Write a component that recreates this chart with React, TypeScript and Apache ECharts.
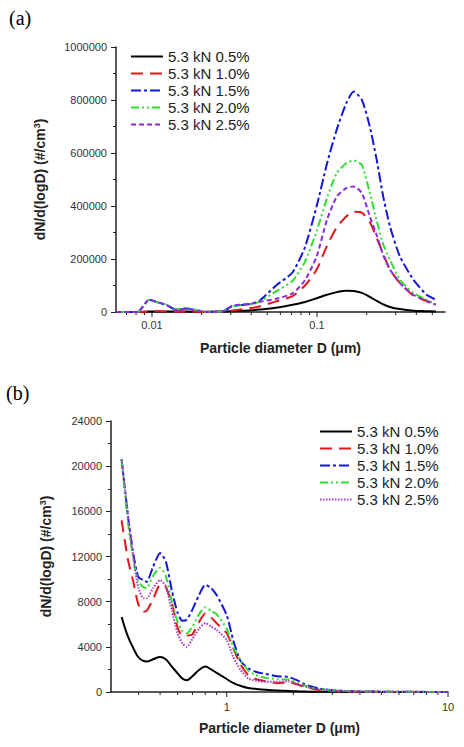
import React, { useEffect, useRef } from "react";
import * as echarts from "echarts";

const FONT = '"Liberation Sans", Arial, sans-serif';

const seriesNames = ["5.3 kN 0.5%", "5.3 kN 1.0%", "5.3 kN 1.5%", "5.3 kN 2.0%", "5.3 kN 2.5%"];

// ---- (a) SMPS range ----
const topDiameters = [0.0061, 0.0075, 0.0082, 0.0096, 0.011, 0.0122, 0.014, 0.0161, 0.0185, 0.0213, 0.0268, 0.0308, 0.0389, 0.0447, 0.0565, 0.0712, 0.0846, 0.0996, 0.115, 0.132, 0.151, 0.167, 0.187, 0.209, 0.23, 0.252, 0.277, 0.318, 0.384, 0.462, 0.526];
const topBlack = [0, 0, 0, 1500, 2000, 2000, 1500, 1500, 1000, 1000, 1500, 3000, 6000, 9000, 16000, 27000, 38000, 52000, 65000, 75000, 80000, 79000, 72000, 57000, 42000, 29000, 19000, 11000, 5000, 3000, 2000];
const topRed = [0, 0, 0, 2000, 3000, 2000, 1000, 1500, 1000, 0, 2000, 6000, 14000, 21000, 40000, 60000, 100000, 160000, 250000, 320000, 361000, 378000, 375000, 340000, 280000, 220000, 160000, 110000, 62000, 42000, 32000];
const topBlue = [0, 0, 0, 46000, 35000, 27000, 8000, 13000, 6000, 0, 2000, 22000, 30000, 42000, 100000, 150000, 245000, 400000, 560000, 690000, 790000, 832000, 801000, 700000, 575000, 436000, 323000, 210000, 122000, 65000, 46000];
const topGreen = [0, 0, 0, 45000, 35000, 28000, 10000, 16000, 8000, 0, 2000, 22000, 28000, 38000, 78000, 118000, 190000, 305000, 430000, 525000, 562000, 572000, 555000, 450000, 345000, 255000, 197000, 122000, 72000, 46000, 28000];
const topPurple = [0, 0, 0, 46000, 36000, 27000, 8000, 12000, 6000, 0, 2000, 24000, 30000, 38000, 50000, 70000, 120000, 210000, 348000, 436000, 468000, 474000, 449000, 361000, 290000, 215000, 160000, 109000, 65000, 40000, 28000];
const topMajorTicks = [0.01, 0.1];
const topMinorTicks = [0.007, 0.008, 0.009, 0.02, 0.03, 0.04, 0.05, 0.06, 0.07, 0.08, 0.09, 0.2, 0.3, 0.4, 0.5];

// ---- (b) OPC range ----
const botDiameters = [0.335, 0.358, 0.378, 0.398, 0.42, 0.435, 0.465, 0.5, 0.53, 0.565, 0.6, 0.63, 0.66, 0.7, 0.75, 0.8, 0.85, 0.9, 1.0, 1.07, 1.15, 1.25, 1.35, 1.5, 1.7, 1.9, 2.1, 2.3, 2.6, 3.0, 3.5, 4.5, 6, 8, 10];
const botBlack = [6650, 4900, 3900, 3100, 2750, 2700, 2900, 3100, 2900, 2250, 1650, 1200, 1050, 1400, 1950, 2250, 2000, 1700, 1150, 800, 550, 350, 280, 200, 130, 90, 60, 40, 25, 15, 10, 5, 3, 2, 0];
const botRed = [15200, 11700, 9800, 7800, 7100, 7200, 8200, 9500, 9300, 7900, 5700, 5000, 5000, 5100, 6200, 6950, 6600, 6100, 5200, 3900, 2500, 1500, 1150, 950, 780, 850, 650, 420, 170, 80, 40, 20, 10, 5, 0];
const botBlue = [20600, 15500, 12300, 10200, 9900, 9750, 11100, 12300, 11600, 9000, 7000, 6300, 6400, 7300, 8600, 9500, 9200, 8600, 6800, 4600, 2800, 2100, 1800, 1600, 1400, 1330, 1000, 600, 320, 160, 80, 40, 20, 10, 5];
const botGreen = [20600, 15000, 11800, 9800, 9300, 9200, 10300, 11000, 10300, 8000, 6200, 5400, 5200, 5800, 6900, 7500, 7200, 6900, 5600, 4000, 2900, 1900, 1500, 1250, 1150, 1100, 850, 500, 280, 150, 80, 40, 20, 10, 5];
const botPurple = [20600, 15800, 12000, 9300, 8300, 8300, 9200, 9900, 9400, 7200, 5200, 4300, 4000, 4700, 5600, 6100, 5800, 5500, 4600, 3100, 2000, 1200, 1000, 900, 900, 950, 700, 450, 250, 150, 80, 40, 20, 10, 5];
const botMajorTicks = [1, 10];
const botMinorTicks = [0.4, 0.5, 0.6, 0.7, 0.8, 0.9, 2, 3, 4, 5, 6, 7, 8, 9];

const AXIS_COLOR = "#222";
const LABEL_COLOR = "#333";

const fmtNum = (v: number) => String(Number(Number(v).toPrecision(6)));

function makeLine(name: string, xs: number[], ys: number[], color: string, type: any, width: number, smooth: number) {
  return {
    name,
    type: "line",
    symbol: "none",
    smooth,
    data: xs.map((x, i) => [x, ys[i]]),
    lineStyle: { color, width, type },
    itemStyle: { color },
  };
}

function tickSeries(major: number[], minor: number[]) {
  const data = [...major.map((v) => [v, 1]), ...minor.map((v) => [v, 0])];
  return {
    name: "__ticks",
    type: "custom",
    silent: true,
    clip: false,
    data,
    encode: { x: 0, y: 1 },
    renderItem: (params: any, api: any) => {
      const v = api.value(0);
      const p = api.coord([v, 0]);
      const len = api.value(1) ? 5 : 3;
      return {
        type: "line",
        shape: { x1: p[0], y1: p[1], x2: p[0], y2: p[1] + len },
        style: { stroke: AXIS_COLOR, lineWidth: 1 },
      };
    },
  };
}

function baseOption(cfg: any) {
  return {
    animation: false,
    textStyle: { fontFamily: FONT },
    graphic: [
      {
        type: "text",
        left: cfg.labelPos[0],
        top: cfg.labelPos[1],
        style: { text: cfg.panel, font: '20px "Liberation Serif", "Times New Roman", serif', fill: "#000" },
      },
    ],
    legend: {
      orient: "vertical",
      left: cfg.legendPos[0],
      top: cfg.legendPos[1],
      padding: 0,
      itemWidth: 32,
      itemHeight: 12,
      itemGap: 2,
      data: seriesNames,
      textStyle: { fontSize: 15, color: "#222", lineHeight: 15, fontFamily: FONT },
      lineStyle: { width: 2 },
      itemStyle: { opacity: 0 },
      selectedMode: false,
    },
    grid: cfg.grid,
    xAxis: {
      type: "log",
      logBase: 10,
      min: cfg.xMin,
      max: cfg.xMax,
      axisLine: { lineStyle: { color: AXIS_COLOR, width: 1.5 } },
      axisTick: { show: false },
      splitLine: { show: false },
      minorTick: { show: false },
      axisLabel: {
        fontSize: 11,
        color: LABEL_COLOR,
        margin: cfg.xLabelMargin,
        showMinLabel: false,
        showMaxLabel: cfg.showMaxLabel,
        formatter: (v: number) => fmtNum(v),
      },
      name: "Particle diameter D (μm)",
      nameLocation: "middle",
      nameGap: 29,
      nameTextStyle: { fontSize: 14, fontWeight: "bold", color: "#222", fontFamily: FONT },
    },
    yAxis: {
      type: "value",
      min: 0,
      max: cfg.yMax,
      interval: cfg.yInterval,
      axisLine: { show: true, lineStyle: { color: AXIS_COLOR, width: 1.5 } },
      axisTick: { show: true, length: 5, lineStyle: { color: AXIS_COLOR, width: 1 } },
      minorTick: { show: true, splitNumber: 2, length: 3, lineStyle: { color: AXIS_COLOR, width: 1 } },
      splitLine: { show: false },
      minorSplitLine: { show: false },
      axisLabel: { fontSize: 11, color: LABEL_COLOR, margin: 9, formatter: (v: number) => String(v) },
      name: "{a|dN/d(logD) (#/cm}{s|3}{a|)}",
      nameLocation: "middle",
      nameGap: cfg.yNameGap,
      nameRotate: 90,
      nameTextStyle: {
        rich: {
          a: { fontSize: 14, fontWeight: "bold", color: "#222", fontFamily: FONT, lineHeight: 16 },
          s: { fontSize: 9, fontWeight: "bold", color: "#222", fontFamily: FONT, verticalAlign: "top", lineHeight: 16 },
        },
      },
    },
    series: cfg.series,
  };
}

const optionA = baseOption({
  panel: "(a)",
  labelPos: [9, 8],
  legendPos: [130, 49],
  grid: { left: 116, right: 19, top: 47, bottom: 58 },
  xMin: 0.00605,
  xMax: 0.597,
  xLabelMargin: 7,
  showMaxLabel: false,
  yMax: 1000000,
  yInterval: 200000,
  yNameGap: 68,
  series: [
    makeLine(seriesNames[0], topDiameters, topBlack, "#000000", "solid", 2, 0.4),
    makeLine(seriesNames[1], topDiameters, topRed, "#e4161c", [12, 7], 2, 0.2),
    makeLine(seriesNames[2], topDiameters, topBlue, "#1616d8", [10, 3, 3, 3], 2, 0.2),
    makeLine(seriesNames[3], topDiameters, topGreen, "#2ee02e", [8, 3, 2, 3, 2, 3], 2, 0.2),
    makeLine(seriesNames[4], topDiameters, topPurple, "#8a2be2", [5, 3], 2, 0.2),
    tickSeries(topMajorTicks, topMinorTicks),
  ],
});

const optionB = baseOption({
  panel: "(b)",
  labelPos: [6, 13],
  legendPos: [319, 54],
  grid: { left: 111, right: 16, top: 51, bottom: 55 },
  xMin: 0.3,
  xMax: 10,
  xLabelMargin: 9,
  showMaxLabel: true,
  yMax: 24000,
  yInterval: 4000,
  yNameGap: 57,
  series: [
    makeLine(seriesNames[0], botDiameters, botBlack, "#000000", "solid", 2, 0.4),
    makeLine(seriesNames[1], botDiameters, botRed, "#e4161c", [12, 7], 2, 0.2),
    makeLine(seriesNames[2], botDiameters, botBlue, "#1616d8", [10, 3, 3, 3], 2, 0.2),
    makeLine(seriesNames[3], botDiameters, botGreen, "#2ee02e", [8, 3, 2, 3, 2, 3], 2, 0.2),
    makeLine(seriesNames[4], botDiameters, botPurple, "#a437c8", [1.5, 1.5], 2, 0.2),
    tickSeries(botMajorTicks, botMinorTicks),
  ],
});

function ChartBox({ option, height }: { option: any; height: number }) {
  const ref = useRef<HTMLDivElement>(null);
  useEffect(() => {
    if (!ref.current) return;
    const chart = echarts.init(ref.current, undefined, { renderer: "svg" });
    chart.setOption(option);
    return () => chart.dispose();
  }, [option]);
  return <div ref={ref} style={{ width: 464, height }} />;
}

export default function App() {
  return (
    <div style={{ position: "absolute", left: 0, top: 0, width: 464, height: 747, background: "#fff" }}>
      <ChartBox option={optionA} height={370} />
      <ChartBox option={optionB} height={377} />
    </div>
  );
}
